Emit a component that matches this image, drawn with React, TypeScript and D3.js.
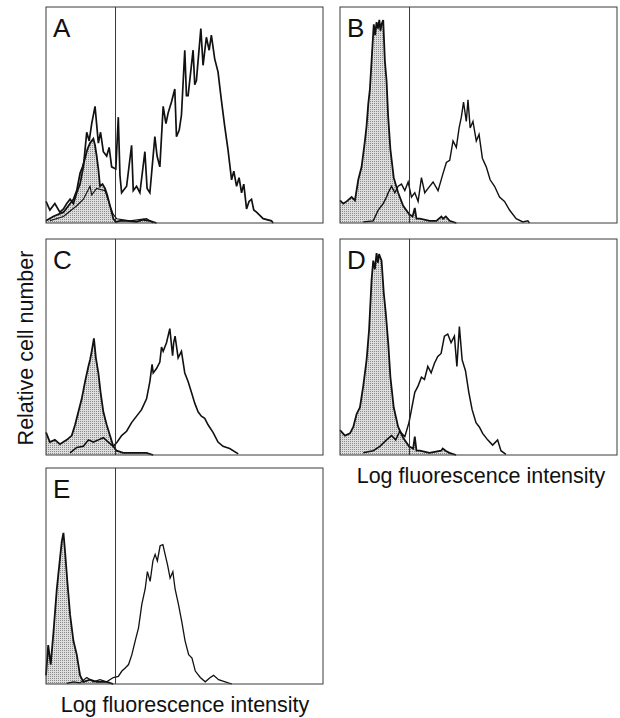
import React from "react";
import * as d3 from "d3";

type Pt = [number, number];

// channel (0-1000, log scale display) vs relative cell number (0-100)
const PANEL_LABELS = ["A", "B", "C", "D", "E"];
const MARKER_CHANNEL = 251;
const X_LABEL = "Log fluorescence intensity";
const Y_LABEL = "Relative cell number";

const controlA: Pt[] = [
  [0, 1], [26, 3], [63, 5], [81, 8], [99, 11], [111, 15], [123, 23], [132, 26],
  [141, 30], [149, 34], [159, 37], [171, 39], [177, 36], [183, 31], [189, 25],
  [195, 17], [204, 18], [213, 16], [221, 13], [231, 8], [243, 2], [252, 0.5],
  [267, 1], [291, 1], [327, 0.5], [351, 1.5], [375, 1], [399, 0],
];
const extraA: Pt[] = [
  [14, 1], [63, 3], [111, 8], [135, 11], [147, 14], [159, 17], [165, 13],
  [183, 16], [213, 15], [231, 8], [243, 4], [255, 2], [303, 1], [363, 2], [387, 0],
];
const positiveA: Pt[] = [
  [0, 10], [14, 6], [32, 9], [50, 5], [63, 6.5], [75, 9], [87, 11], [99, 9],
  [111, 14], [123, 18], [135, 26], [147, 42], [156, 38], [165, 46], [177, 54],
  [189, 37], [197, 42], [207, 33], [219, 31], [228, 35], [237, 26], [252, 25],
  [261, 49], [267, 22], [273, 14], [291, 17], [309, 36], [315, 15], [327, 17],
  [339, 14], [357, 33], [365, 16], [375, 14], [393, 40], [401, 31], [411, 26],
  [423, 54], [433, 46], [441, 51], [453, 56], [465, 62], [471, 40], [481, 43],
  [489, 50], [501, 80], [507, 59], [513, 59], [531, 80], [537, 64], [543, 66],
  [559, 90], [567, 73], [579, 86], [589, 80], [597, 87], [609, 76], [621, 70],
  [633, 57], [645, 45], [657, 34], [670, 20], [678, 24], [688, 17], [697, 21],
  [706, 14], [714, 18], [724, 6.5], [733, 10], [742, 11], [750, 6], [760, 5],
  [784, 2], [814, 1], [820, 0],
];

const controlB: Pt[] = [
  [0, 10.5], [12, 9], [24, 10], [42, 12], [54, 10.5], [66, 20], [78, 26],
  [90, 38], [96, 45], [102, 55], [108, 62], [114, 75], [120, 88], [122, 92],
  [127, 87], [132, 93], [137, 90], [142, 94], [146, 89], [150, 92], [156, 94],
  [162, 75], [168, 66], [174, 49], [182, 34], [194, 21], [210, 14], [228, 8],
  [250, 4], [262, 3], [270, 7], [276, 2], [288, 2], [324, 1], [348, 1],
  [366, 3], [372, 2], [382, 3], [396, 1], [420, 0],
];
const positiveB: Pt[] = [
  [84, 0.5], [120, 1], [138, 6], [156, 9], [168, 12], [174, 14], [186, 17],
  [198, 14], [210, 17], [222, 18], [234, 15], [246, 19], [258, 12], [270, 14],
  [282, 10], [294, 21], [306, 14], [318, 16], [336, 19], [354, 15], [372, 23],
  [384, 28], [396, 29], [408, 38], [420, 35], [430, 44], [438, 49], [446, 56],
  [456, 47], [462, 57], [470, 44], [480, 47], [492, 38], [502, 41], [514, 30],
  [528, 26], [542, 20], [558, 17], [576, 12], [594, 10], [612, 6], [636, 2],
  [660, 0.5], [678, 1], [684, 0],
];

const controlC: Pt[] = [
  [0, 10.5], [14, 6], [32, 7], [50, 5], [75, 7], [93, 9], [105, 14], [117, 20],
  [129, 26], [141, 34], [153, 41], [159, 44], [165, 48], [173, 54], [180, 45],
  [189, 38], [197, 29], [207, 20], [219, 14], [231, 9], [243, 4], [255, 2],
  [279, 1], [327, 1], [363, 1], [387, 0],
];
const positiveC: Pt[] = [
  [87, 1], [111, 3.5], [135, 4], [153, 7], [171, 6], [189, 7], [207, 8],
  [225, 6], [243, 4], [257, 6], [273, 9], [291, 11], [309, 15], [327, 18],
  [345, 21], [363, 26], [375, 34], [383, 42], [387, 38], [399, 40], [411, 43],
  [417, 50], [423, 48], [435, 52], [447, 58.5], [457, 46], [461, 52], [466, 55],
  [477, 45], [489, 48], [501, 38], [513, 34], [525, 29], [537, 24], [549, 20],
  [561, 18], [573, 17], [585, 14], [603, 10.5], [621, 6], [639, 4], [663, 3],
  [694, 0.5],
];

const controlD: Pt[] = [
  [0, 11.5], [18, 9], [36, 10], [48, 13], [60, 19], [72, 22], [84, 32],
  [96, 44], [105, 58], [114, 81], [120, 90], [126, 86], [132, 93.5], [137, 89],
  [141, 93], [150, 90], [158, 75], [165, 66], [174, 52], [182, 36], [194, 22],
  [210, 13], [228, 8], [249, 4], [264, 3], [270, 8.5], [276, 2], [288, 2],
  [323, 1], [365, 2], [371, 3], [381, 2], [395, 1], [419, 0],
];
const positiveD: Pt[] = [
  [84, 1], [120, 2], [144, 4], [168, 7], [186, 9], [201, 7], [216, 11],
  [234, 8.5], [249, 15], [258, 21], [270, 29], [282, 32], [294, 36], [305, 35],
  [317, 41], [329, 38], [341, 42.5], [353, 45.6], [365, 47], [377, 55],
  [389, 56], [401, 52], [413, 55], [422, 41], [431, 59.5], [441, 44], [453, 39],
  [465, 29], [477, 21], [491, 15], [503, 13], [515, 10], [533, 7], [551, 4.6],
  [569, 7], [581, 2], [599, 0.3],
];

const controlE: Pt[] = [
  [0, 4], [8, 18], [17, 9], [27, 24], [39, 44], [48, 55], [57, 66], [63, 70],
  [69, 61], [77, 47.5], [87, 32], [99, 20], [111, 13.6], [123, 4], [135, 1],
  [159, 2], [183, 1], [219, 1], [243, 0],
];
const positiveE: Pt[] = [
  [75, 0.3], [99, 1], [123, 0.5], [147, 3], [171, 1], [195, 2], [219, 1],
  [243, 3], [261, 3.5], [274, 6], [286, 7.4], [298, 9], [310, 13.6], [322, 20],
  [334, 26], [346, 37], [358, 44], [366, 52], [376, 47.5], [386, 57], [394, 60],
  [402, 57], [412, 64], [422, 64.5], [430, 60], [439, 55], [448, 49], [458, 52],
  [466, 44], [478, 37], [490, 29], [502, 20], [515, 13.6], [527, 12], [539, 6],
  [557, 3], [575, 1], [593, 3], [605, 4], [623, 2], [647, 1], [671, 0],
];

const PW = 277;
const PH = 216;
const COLS = [46, 340];
const ROWS = [7, 239, 468];

const panels = [
  { label: PANEL_LABELS[0], x: COLS[0], y: ROWS[0], control: controlA, positive: positiveA, extra: extraA, lw: 1.7 },
  { label: PANEL_LABELS[1], x: COLS[1], y: ROWS[0], control: controlB, positive: positiveB, extra: null, lw: 1.4 },
  { label: PANEL_LABELS[2], x: COLS[0], y: ROWS[1], control: controlC, positive: positiveC, extra: null, lw: 1.6 },
  { label: PANEL_LABELS[3], x: COLS[1], y: ROWS[1], control: controlD, positive: positiveD, extra: null, lw: 1.5 },
  { label: PANEL_LABELS[4], x: COLS[0], y: ROWS[2], control: controlE, positive: positiveE, extra: null, lw: 1.3 },
];

const x = d3.scaleLinear().domain([0, 1000]).range([0, PW]);
const y = d3.scaleLinear().domain([0, 100]).range([PH, 0]);

const line = d3.line<Pt>().x((d) => x(d[0])).y((d) => y(d[1]));
const area = d3.area<Pt>().x((d) => x(d[0])).y0(PH).y1((d) => y(d[1]));

const FONT = "'Liberation Sans', Arial, Helvetica, sans-serif";

const App = () => {
  return (
    <svg
      width={620}
      height={718}
      style={{ position: "absolute", left: 0, top: 0, background: "#fff" }}
    >
      <defs>
        <pattern id="stipple" width="2" height="2" patternUnits="userSpaceOnUse">
          <rect width="2" height="2" fill="#dedede" />
          <rect width="1" height="1" fill="#8a8a8a" />
        </pattern>
      </defs>
      {panels.map((p) => (
        <g key={p.label} transform={`translate(${p.x},${p.y})`}>
          <path d={area(p.control)!} fill="url(#stipple)" />
          {p.extra && (
            <path d={line(p.extra)!} fill="none" stroke="#111" strokeWidth={1.1} />
          )}
          <path d={line(p.control)!} fill="none" stroke="#111" strokeWidth={1.8} />
          <path d={line(p.positive)!} fill="none" stroke="#111" strokeWidth={p.lw} />
          <line
            x1={x(MARKER_CHANNEL)}
            x2={x(MARKER_CHANNEL)}
            y1={0}
            y2={PH}
            stroke="#222"
            strokeWidth={0.9}
          />
          <rect width={PW} height={PH} fill="none" stroke="#3a3a3a" strokeWidth={1} />
          <text x={7} y={30} fontFamily={FONT} fontSize={26} fill="#111">
            {p.label}
          </text>
        </g>
      ))}
      <text
        x={481}
        y={483}
        textAnchor="middle"
        fontFamily={FONT}
        fontSize={21.5}
        fill="#111"
      >
        {X_LABEL}
      </text>
      <text
        x={185}
        y={712}
        textAnchor="middle"
        fontFamily={FONT}
        fontSize={21.5}
        fill="#111"
      >
        {X_LABEL}
      </text>
      <text
        transform="translate(33,348) rotate(-90)"
        textAnchor="middle"
        fontFamily={FONT}
        fontSize={21.5}
        fill="#111"
      >
        {Y_LABEL}
      </text>
    </svg>
  );
};

export default App;
